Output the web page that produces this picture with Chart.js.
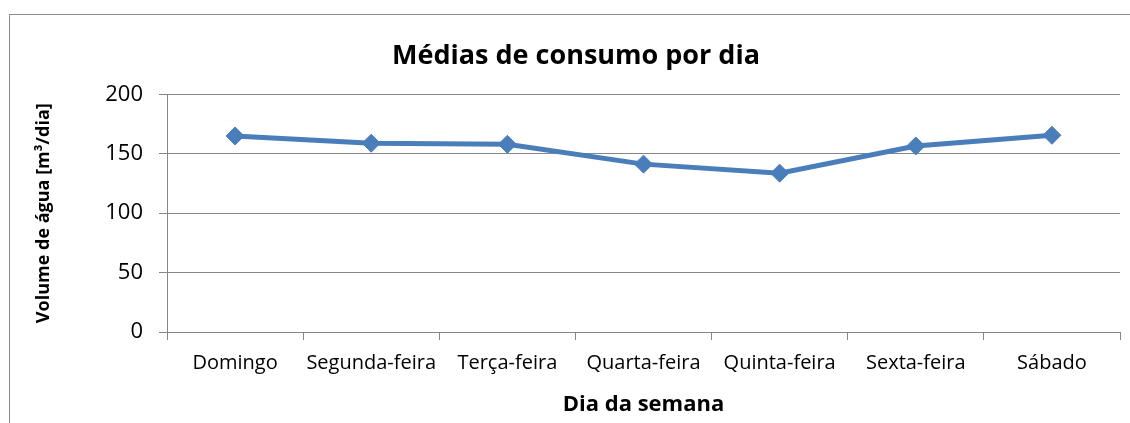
<!DOCTYPE html>
<html>
<head>
<meta charset="utf-8">
<script src="https://cdn.jsdelivr.net/npm/chart.js@4"></script>
<style>
  body { margin: 0; background: #fff; }
  #wrap { width: 1130px; height: 423px; position: relative; }
</style>
</head>
<body>
<div id="wrap"><canvas id="consumoChart"></canvas></div>
<script>
const dias = ['Domingo', 'Segunda-feira', 'Terça-feira', 'Quarta-feira', 'Quinta-feira', 'Sexta-feira', 'Sábado'];
const mediaConsumo = [165, 158.9, 158, 141.3, 133.7, 156.6, 165.6];
const yTicks = [0, 50, 100, 150, 200];

const FONT = "'Open Sans', 'Noto Sans', sans-serif";
const grey = '#868686';
const blue = '#4a7ebb';

// moldura cinza do gráfico (canto superior esquerdo visível)
const frame = {
    id: 'frame',
    beforeDraw(chart) {
        const ctx = chart.ctx;
        ctx.save();
        ctx.fillStyle = '#fff';
        ctx.fillRect(0, 0, chart.width, chart.height);
        ctx.strokeStyle = '#8c8c8c';
        ctx.lineWidth = 1;
        ctx.strokeRect(9.5, 14.5, 1400, 600);
        ctx.restore();
    }
};

const ctx = document.getElementById('consumoChart').getContext('2d');
new Chart(ctx, {
    type: 'line',
    data: {
        labels: dias,
        datasets: [{
            label: 'Média',
            data: mediaConsumo,
            borderColor: blue,
            backgroundColor: blue,
            borderWidth: 5,
            pointStyle: 'rectRot',
            pointRadius: 9,
            pointBorderWidth: 1,
            pointBackgroundColor: blue,
            pointBorderColor: blue,
            tension: 0,
            fill: false
        }]
    },
    options: {
        responsive: true,
        maintainAspectRatio: false,
        animation: false,
        layout: { padding: { left: 24, right: 2, top: 0, bottom: 0 } },
        scales: {
            x: {
                offset: true,
                grid: { offset: true, drawOnChartArea: false, drawTicks: true, tickLength: 8, color: grey, tickColor: grey },
                border: { display: true, color: grey, width: 1 },
                ticks: { color: '#000', font: { family: FONT, size: 20 }, padding: 11, maxRotation: 0, autoSkip: false },
                title: { display: true, text: 'Dia da semana', color: '#000', font: { family: FONT, size: 22, weight: 'bold' }, padding: { top: 0, bottom: 5 } },
                afterFit: s => { s.height = 91; }
            },
            y: {
                min: 0,
                max: 200,
                afterBuildTicks: s => { s.ticks = yTicks.map(v => ({ value: v })); },
                grid: { color: grey, tickColor: grey, tickLength: 8, drawTicks: true },
                border: { display: true, color: grey, width: 1 },
                ticks: { color: '#000', font: { family: FONT, size: 22 }, padding: 16 },
                title: { display: true, text: 'Volume de água [m³/dia]', color: '#000', font: { family: FONT, size: 18, weight: 'bold' }, padding: { top: 9, bottom: 0 } },
                afterFit: s => { s.width = 143; }
            }
        },
        plugins: {
            legend: { display: false },
            tooltip: { enabled: false },
            title: {
                display: true,
                text: 'Médias de consumo por dia',
                color: '#000',
                font: { family: FONT, size: 27, weight: 'bold' },
                padding: { top: 40, bottom: 22 }
            }
        }
    },
    plugins: [frame]
});
</script>
</body>
</html>
